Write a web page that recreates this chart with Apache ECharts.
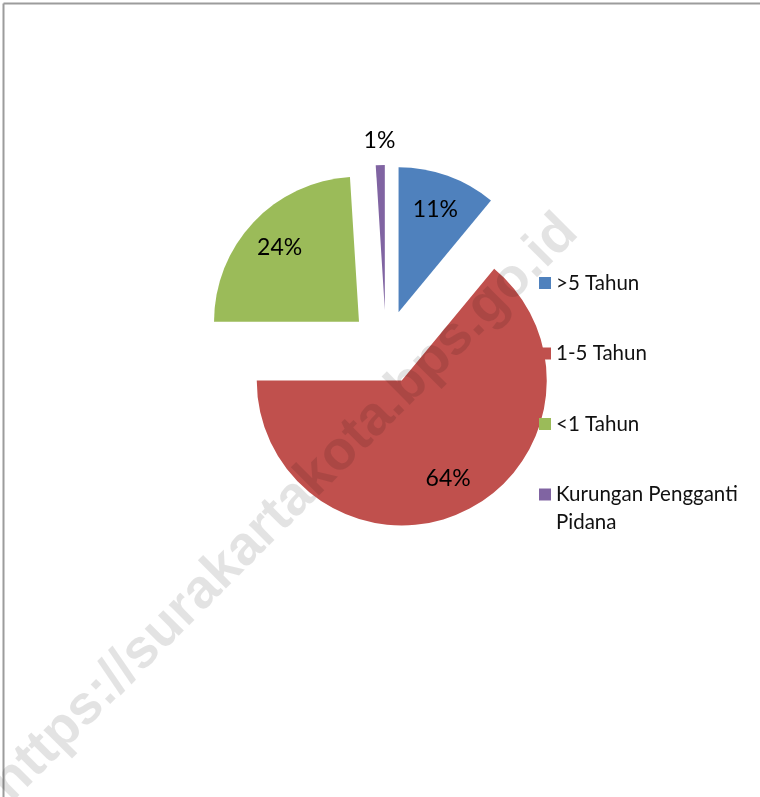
<!DOCTYPE html>
<html>
<head>
<meta charset="utf-8">
<script src="https://cdn.jsdelivr.net/npm/echarts@6/dist/echarts.min.js"></script>
<style>
html,body{margin:0;padding:0;background:#fff;}
#chart{width:760px;height:797px;}
</style>
</head>
<body>
<div id="chart"></div>
<script>
// ---- data ----
var categories = ['>5 Tahun', '1-5 Tahun', '<1 Tahun', 'Kurungan Pengganti Pidana'];
var values = [11, 64, 24, 1];
var colors = ['#4F81BD', '#C0504D', '#9BBB59', '#8064A2'];
var outsideLabel = ['Kurungan Pengganti Pidana'];
var watermark = 'https://surakartakota.bps.go.id';

var CENTER = [386, 347];
var R = 145;
var OFFSET = 37;
var FONT = 'Lato, "Open Sans", sans-serif';
var LH = 28;

function baseData(fn) {
  return categories.map(function (name, i) {
    var item = { name: name, value: values[i], selected: true };
    return fn ? fn(item, i) : item;
  });
}

var chart = echarts.init(document.getElementById('chart'), null, { renderer: 'canvas' });

var common = {
  type: 'pie',
  center: CENTER,
  startAngle: 90,
  clockwise: true,
  selectedMode: 'multiple',
  selectedOffset: OFFSET,
  animation: false,
  emphasis: { disabled: true, scale: false },
  labelLine: { show: false }
};

var lastName = categories[categories.length - 1];

var option = {
  animation: false,
  legend: {
    orient: 'vertical',
    left: 539,
    top: 241,
    padding: 0,
    itemGap: -13.5,
    itemWidth: 12,
    itemHeight: 12,
    icon: 'rect',
    selectedMode: false,
    formatter: function (name) {
      return name === lastName ? '\n' + name : name;
    },
    data: categories.map(function (name, i) {
      var last = name === lastName;
      return {
        name: name,
        itemStyle: { color: colors[i] },
        textStyle: last ? { width: 200, overflow: 'break' }
                        : { padding: [LH, 0, LH, 0] }
      };
    }),
    textStyle: { fontFamily: FONT, fontSize: 20.5, color: '#111', lineHeight: LH }
  },
  color: colors,
  series: [
    Object.assign({}, common, {
      name: 'main',
      radius: [0, R],
      label: { show: false },
      itemStyle: { borderWidth: 0 },
      select: { itemStyle: { borderWidth: 0 } },
      data: baseData(function (item, i) {
        item.itemStyle = { color: colors[i] };
        return item;
      })
    }),
    Object.assign({}, common, {
      name: 'labelsInner',
      radius: [0, R * 1.46],
      silent: true,
      itemStyle: { color: 'rgba(0,0,0,0)' },
      select: { itemStyle: { color: 'rgba(0,0,0,0)' } },
      label: { show: true, position: 'inside', formatter: '{c}%', color: '#000', fontFamily: FONT, fontSize: 23 },
      data: baseData(function (item) {
        if (outsideLabel.indexOf(item.name) >= 0) item.label = { show: false };
        return item;
      })
    }),
    Object.assign({}, common, {
      name: 'labelsOuter',
      radius: [0, R * 2.3],
      silent: true,
      itemStyle: { color: 'rgba(0,0,0,0)' },
      select: { itemStyle: { color: 'rgba(0,0,0,0)' } },
      label: { show: false, position: 'inside', formatter: '{c}%', color: '#000', fontFamily: FONT, fontSize: 23 },
      data: baseData(function (item) {
        if (outsideLabel.indexOf(item.name) >= 0) item.label = { show: true };
        return item;
      })
    })
  ],
  graphic: [
    {
      type: 'line', z: 50, silent: true,
      shape: { x1: 3.5, y1: 3.5, x2: 760, y2: 3.5 },
      style: { stroke: '#9c9c9c', lineWidth: 2 }
    },
    {
      type: 'line', z: 50, silent: true,
      shape: { x1: 3.5, y1: 3.5, x2: 3.5, y2: 797 },
      style: { stroke: '#9c9c9c', lineWidth: 2 }
    },
    {
      type: 'text', z: 100, silent: true,
      x: 285, y: 508,
      rotation: Math.PI / 4,
      style: {
        text: watermark,
        fill: 'rgba(0,0,0,0.11)',
        font: 'bold 55px "Liberation Sans", Arial, sans-serif',
        align: 'center',
        verticalAlign: 'middle'
      }
    }
  ]
};

chart.setOption(option);
</script>
</body>
</html>
